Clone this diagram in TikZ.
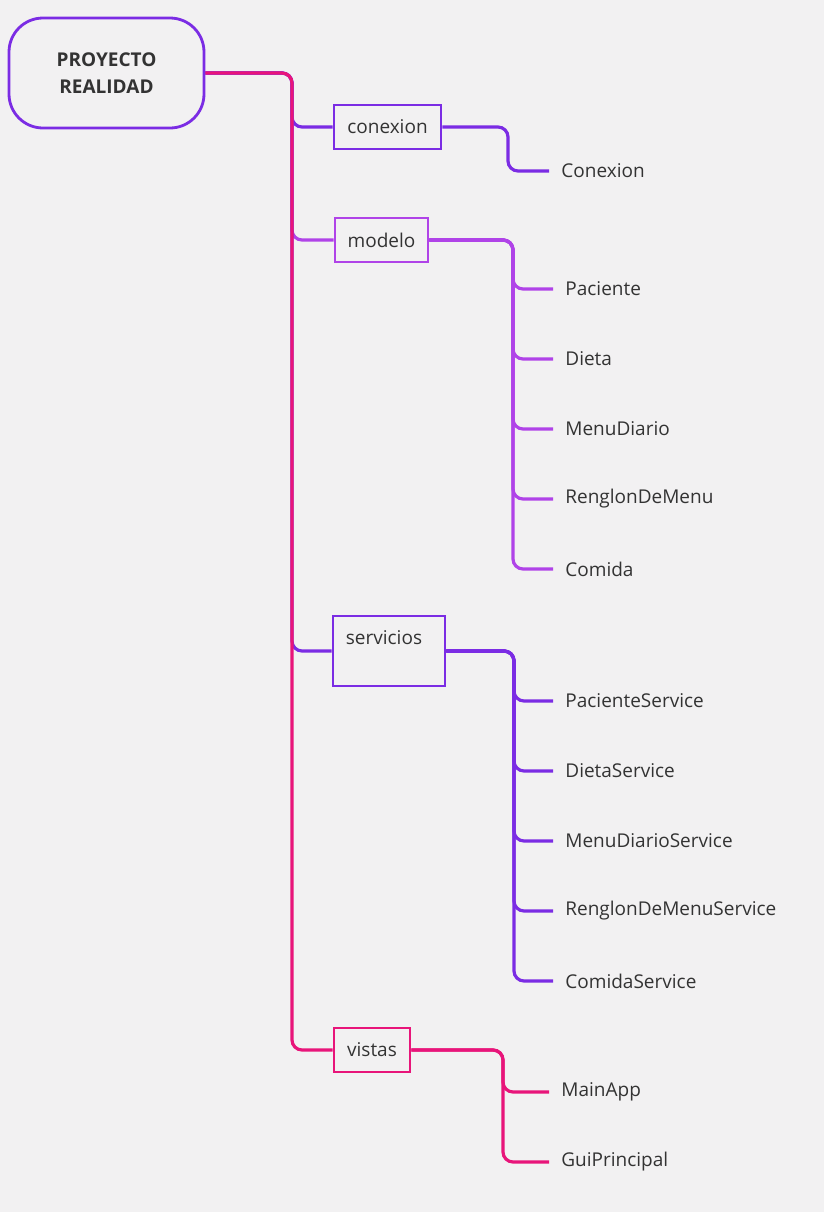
\documentclass[tikz,border=0pt]{standalone}
\usepackage{fontspec}
\setmainfont{Open Sans}
\definecolor{bgcol}{HTML}{F2F1F2}
\definecolor{violeta}{HTML}{7B2CE4}
\definecolor{lila}{HTML}{B043E8}
\definecolor{rosa}{HTML}{E8157A}
\definecolor{texto}{HTML}{333333}
\begin{document}
\begin{tikzpicture}[x=0.5pt,y=-0.5pt,
  every node/.style={text=texto, font=\fontsize{9.5}{12}\selectfont},
  raiz/.style={draw=violeta, line width=1.4pt, rounded corners=17pt, minimum width=97.5pt, minimum height=55pt, align=center, font=\fontsize{9.5}{13.5}\selectfont\bfseries},
  caja/.style={draw=#1, line width=1.4pt, minimum height=22pt},
  hoja/.style={anchor=west, inner xsep=6pt},
  rama/.style={draw=#1, line width=1.6pt, rounded corners=5pt}]
\fill[bgcol] (0,0) rectangle (824,1212);
\useasboundingbox (0,0) rectangle (824,1212);

% nodo principal
\node[raiz] (root) at (106.5,73) {PROYECTO\\REALIDAD};
\coordinate (trunk) at (292,73);

% paquetes
\node[caja=violeta, minimum width=53.5pt] (conexion) at (387.5,127) {conexion};
\node[caja=lila, minimum width=46.5pt] (modelo) at (381.5,240) {modelo};
\node[caja=violeta, minimum width=56pt, minimum height=35pt, text depth=13pt] (servicios) at (389,651) {servicios\kern5pt};
\node[caja=rosa, minimum width=38pt] (vistas) at (372,1050) {vistas};

\draw[rama=violeta] (root.east) -- (trunk) |- (conexion.west);
\draw[rama=lila] (root.east) -- (trunk) |- (modelo.west);
\draw[rama=violeta] (root.east) -- (trunk) |- (servicios.west);
\draw[rama=rosa] (root.east) -- (trunk) |- (vistas.west);

% conexion
\coordinate (hubC) at (508,127);
\node[hoja] (Conexion) at (549,171) {Conexion};
\draw[rama=violeta] (conexion.east) -- (hubC) |- (Conexion.west);

% modelo
\coordinate (hubM) at (513,240);
\node[hoja] (Paciente) at (553,289) {Paciente};
\node[hoja] (Dieta) at (553,359) {Dieta};
\node[hoja] (MenuDiario) at (553,429) {MenuDiario};
\node[hoja] (Renglon) at (553,499) {RenglonDeMenu};
\node[hoja] (Comida) at (553,569) {Comida};
\draw[rama=lila] (modelo.east) -- (hubM) |- (Paciente.west);
\draw[rama=lila] (modelo.east) -- (hubM) |- (Dieta.west);
\draw[rama=lila] (modelo.east) -- (hubM) |- (MenuDiario.west);
\draw[rama=lila] (modelo.east) -- (hubM) |- (Renglon.west);
\draw[rama=lila] (modelo.east) -- (hubM) |- (Comida.west);

% servicios
\coordinate (hubS) at (514,651);
\node[hoja] (PacienteS) at (553,701) {PacienteService};
\node[hoja] (DietaS) at (553,771) {DietaService};
\node[hoja] (MenuDiarioS) at (553,841) {MenuDiarioService};
\node[hoja] (RenglonS) at (553,911) {RenglonDeMenuService};
\node[hoja] (ComidaS) at (553,981) {ComidaService};
\draw[rama=violeta] (servicios.east) -- (hubS) |- (PacienteS.west);
\draw[rama=violeta] (servicios.east) -- (hubS) |- (DietaS.west);
\draw[rama=violeta] (servicios.east) -- (hubS) |- (MenuDiarioS.west);
\draw[rama=violeta] (servicios.east) -- (hubS) |- (RenglonS.west);
\draw[rama=violeta] (servicios.east) -- (hubS) |- (ComidaS.west);

% vistas
\coordinate (hubV) at (503,1050);
\node[hoja] (MainApp) at (549,1092) {MainApp};
\node[hoja] (Gui) at (549,1162) {GuiPrincipal};
\draw[rama=rosa] (vistas.east) -- (hubV) |- (MainApp.west);
\draw[rama=rosa] (vistas.east) -- (hubV) |- (Gui.west);
\end{tikzpicture}
\end{document}
